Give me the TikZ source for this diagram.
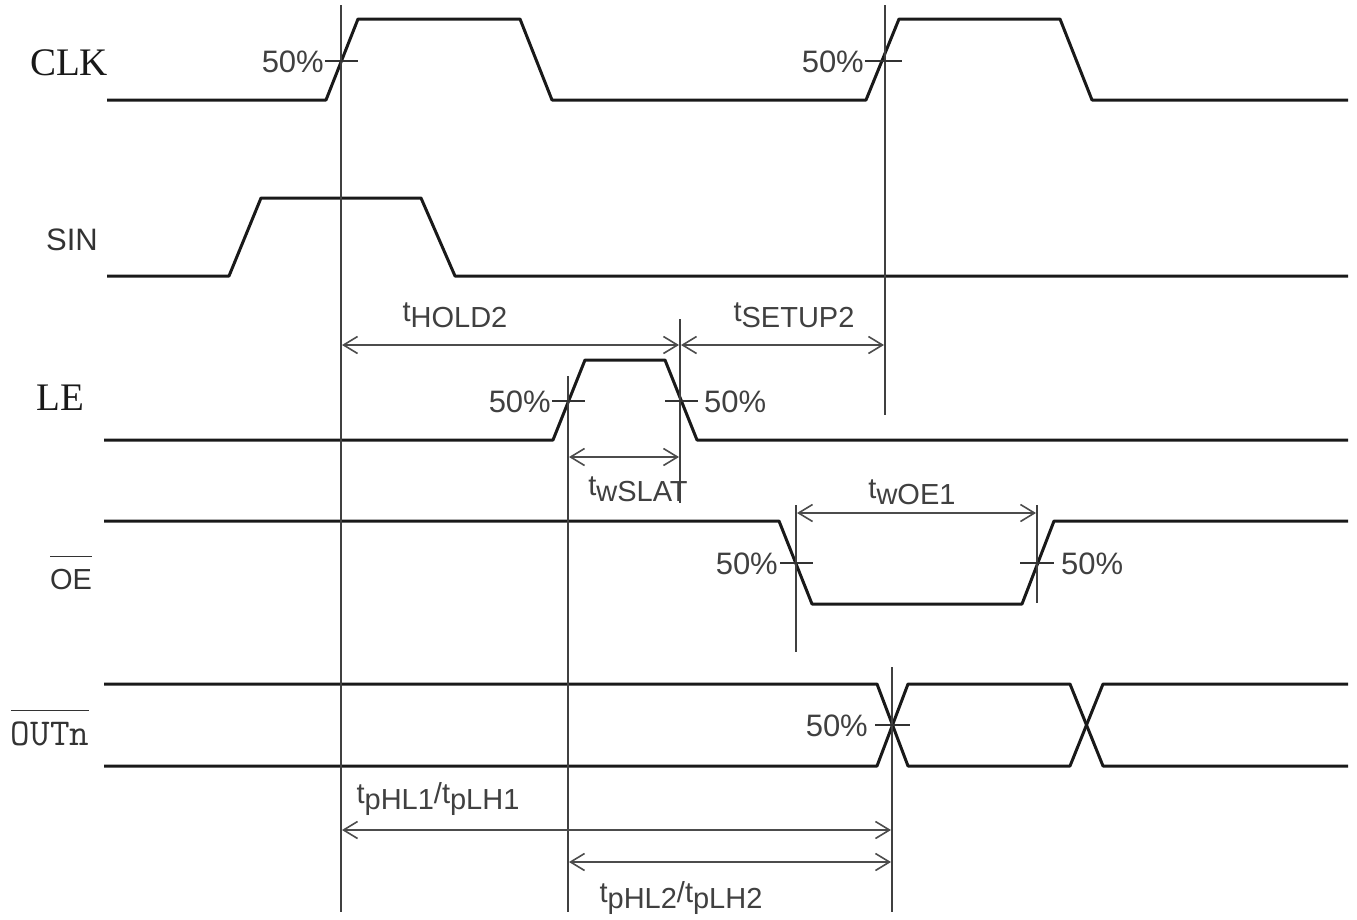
\documentclass[tikz,border=0pt]{standalone}
\usepackage{fontspec}
\setmainfont{Liberation Serif}
\setsansfont{Liberation Sans}
\usetikzlibrary{arrows.meta}
\newcommand\tlbl[2]{t\raisebox{-0.38ex}{#1}#2}
\begin{document}
\begin{tikzpicture}[x=1pt,y=-1pt,
  sig/.style={line width=3pt, line join=round, draw=black!90},
  vline/.style={line width=1.8pt, draw=black!75},
  ticks/.style={line width=1.5pt, draw=black!80},
  dim/.style={line width=1.6pt, draw=black!70,
    {Straight Barb[length=14pt,width=17pt,line width=1.6pt]}-{Straight Barb[length=14pt,width=17pt,line width=1.6pt]}},
  lbl/.style={font=\fontsize{29}{30}\selectfont\sffamily, text=black!75, inner sep=0pt},
  pct/.style={font=\fontsize{31}{32}\selectfont\sffamily, text=black!75, inner sep=0pt},
  siglbl/.style={font=\fontsize{39}{40}\selectfont\rmfamily, text=black!90, inner sep=0pt},
  sanslbl/.style={font=\fontsize{31}{32}\selectfont\sffamily, text=black!80, inner sep=0pt},
  ttlbl/.style={font=\fontsize{38}{40}\selectfont\ttfamily, text=black!80, inner sep=0pt}]
\useasboundingbox (0,0) rectangle (1357,919);

% signal names
\node[siglbl] (nclk) at (69,63) {CLK};
\node[sanslbl] (nsin) at (72,240) {SIN};
\node[siglbl] (nle) at (60,398) {LE};
\node[sanslbl] (noe) at (71,573) {$\overline{\vrule height 1.02em width 0pt\hbox{\fontsize{29}{30}\selectfont\sffamily OE}}$};
\node[ttlbl] (nout) at (50,728) {$\overline{\vrule height 0.88em width 0pt\hbox{\fontsize{38}{40}\selectfont\ttfamily OUTn}}$};

% waveforms
\draw[sig] (107,100) -- (326,100) -- (358,19) -- (520,19) -- (552,100) -- (866,100) -- (899,19) -- (1060,19) -- (1092,100) -- (1348,100);
\draw[sig] (107,276) -- (229,276) -- (261,198) -- (421,198) -- (455,276) -- (1348,276);
\draw[sig] (104,440) -- (553,440) -- (585,360) -- (665,360) -- (697,440) -- (1348,440);
\draw[sig] (104,521) -- (779,521) -- (812,604) -- (1022,604) -- (1054,521) -- (1348,521);
\draw[sig] (104,684) -- (877,684) -- (908,766) -- (1070,766) -- (1103,684) -- (1348,684);
\draw[sig] (104,766) -- (877,766) -- (908,684) -- (1070,684) -- (1103,766) -- (1348,766);

% reference lines
\coordinate (v1t) at (341,5);   \coordinate (v1b) at (341,912);
\coordinate (v2t) at (885,5);   \coordinate (v2b) at (885,415);
\coordinate (v3t) at (568,376); \coordinate (v3b) at (568,912);
\coordinate (v4t) at (680,319); \coordinate (v4b) at (680,503);
\coordinate (v5t) at (796,505); \coordinate (v5b) at (796,652);
\coordinate (v6t) at (1037,505);\coordinate (v6b) at (1037,603);
\coordinate (v7t) at (892,667); \coordinate (v7b) at (892,912);
\draw[vline] (v1t) -- (v1b);
\draw[vline] (v2t) -- (v2b);
\draw[vline] (v3t) -- (v3b);
\draw[vline] (v4t) -- (v4b);
\draw[vline] (v5t) -- (v5b);
\draw[vline] (v6t) -- (v6b);
\draw[vline] (v7t) -- (v7b);

% 50% ticks
\draw[ticks] (325,61) -- (358,61);
\draw[ticks] (865,61) -- (902,61);
\draw[ticks] (552,401) -- (585,401);
\draw[ticks] (665,401) -- (698,401);
\draw[ticks] (780,563) -- (813,563);
\draw[ticks] (1020,563) -- (1054,563);
\draw[ticks] (875,725) -- (910,725);

% 50% labels
\node[pct, anchor=east] (p1) at (324,62) {50\%};
\node[pct, anchor=east] (p2) at (864,62) {50\%};
\node[pct, anchor=east] (p3) at (551,402) {50\%};
\node[pct, anchor=west] (p4) at (704,402) {50\%};
\node[pct, anchor=east] (p5) at (778,564) {50\%};
\node[pct, anchor=west] (p6) at (1061,564) {50\%};
\node[pct, anchor=east] (p7) at (868,726) {50\%};

% dimension arrows
\coordinate (hold) at (341,345);  \coordinate (holdr) at (680,345);
\coordinate (setl) at (680,345);  \coordinate (setr) at (885,345);
\coordinate (wsl) at (568,457);   \coordinate (wsr) at (680,457);
\coordinate (oel) at (796,513);   \coordinate (oer) at (1037,513);
\coordinate (pd1l) at (341,830);  \coordinate (pd1r) at (892,830);
\coordinate (pd2l) at (568,862);  \coordinate (pd2r) at (892,862);
\draw[dim] ([xshift=1pt]hold) -- ([xshift=-1pt]holdr);
\draw[dim] ([xshift=1pt]setl) -- ([xshift=-1pt]setr);
\draw[dim] ([xshift=1pt]wsl) -- ([xshift=-1pt]wsr);
\draw[dim] ([xshift=1pt]oel) -- ([xshift=-1pt]oer);
\draw[dim] ([xshift=1pt]pd1l) -- ([xshift=-1pt]pd1r);
\draw[dim] ([xshift=1pt]pd2l) -- ([xshift=-1pt]pd2r);

% timing labels
\node[lbl] (lhold) at (455,315) {\tlbl{HOLD2}{}};
\node[lbl] (lset) at (794,315) {\tlbl{SETUP2}{}};
\node[lbl] (lws) at (638,489) {\tlbl{wSLAT}{}};
\node[lbl] (loe) at (912,492) {\tlbl{wOE1}{}};
\node[lbl] (lpd1) at (438,799) {\tlbl{pHL1}{/}\tlbl{pLH1}{}};
\node[lbl] (lpd2) at (681,898) {\tlbl{pHL2}{/}\tlbl{pLH2}{}};
\end{tikzpicture}
\end{document}
